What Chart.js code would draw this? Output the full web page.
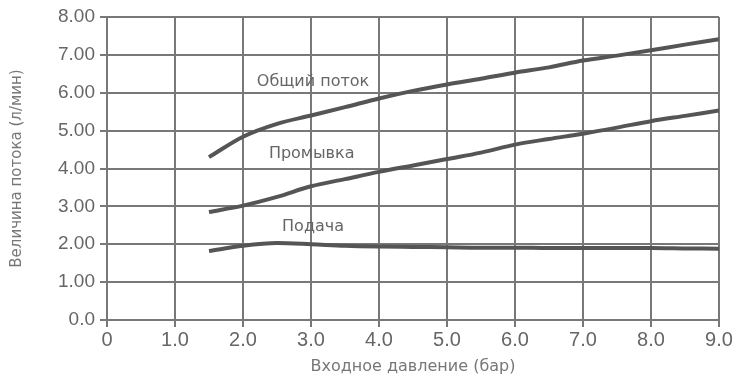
<!DOCTYPE html>
<html>
<head>
<meta charset="utf-8">
<script src="https://cdn.jsdelivr.net/npm/chart.js@4"></script>
<style>
  html, body { margin: 0; padding: 0; background: #fff; }
  #wrap { width: 736px; height: 377px; }
</style>
</head>
<body>
<div id="wrap"><canvas id="flowChart"></canvas></div>
<script>
// входное давление, бар
const pressure = [1.5, 2.0, 2.5, 3.0, 3.5, 4.0, 4.5, 5.0, 5.5, 6.0, 6.5, 7.0, 7.5, 8.0, 8.5, 9.0];

// расход, л/мин
const totalFlow = [4.30, 4.84, 5.18, 5.40, 5.62, 5.85, 6.05, 6.22, 6.37, 6.53, 6.67, 6.85, 6.98, 7.12, 7.27, 7.41];
const flushFlow = [2.85, 3.02, 3.25, 3.53, 3.72, 3.91, 4.08, 4.25, 4.42, 4.63, 4.78, 4.92, 5.08, 5.25, 5.39, 5.53];
const feedFlow  = [1.82, 1.96, 2.03, 2.00, 1.96, 1.94, 1.93, 1.92, 1.91, 1.91, 1.90, 1.90, 1.90, 1.90, 1.89, 1.88];

const seriesNames = ["Общий поток", "Промывка", "Подача"];
// where each curve name sits, in data units (x, y)
const nameAnchors = [[3.03, 6.30], [3.01, 4.39], [3.03, 2.45]];

const xTicks = ["0", "1.0", "2.0", "3.0", "4.0", "5.0", "6.0", "7.0", "8.0", "9.0"];
const yTicks = ["0.0", "1.00", "2.00", "3.00", "4.00", "5.00", "6.00", "7.00", "8.00"];

function toPoints(ys) {
    return pressure.map((p, i) => ({ x: p, y: ys[i] }));
}

const lineStyle = {
    borderColor: "#555555",
    borderWidth: 4,
    pointRadius: 0,
    fill: false,
    tension: 0.3,
    cubicInterpolationMode: "monotone"
};

const curveNames = {
    id: "curveNames",
    afterDatasetsDraw(chart) {
        const { ctx, scales } = chart;
        ctx.save();
        ctx.font = "16px 'DejaVu Sans'";
        ctx.fillStyle = "#666";
        ctx.textAlign = "center";
        ctx.textBaseline = "middle";
        seriesNames.forEach((name, i) => {
            const a = nameAnchors[i];
            ctx.fillText(name, scales.x.getPixelForValue(a[0]), scales.y.getPixelForValue(a[1]));
        });
        ctx.restore();
    }
};

const gridColor = "#787878";

new Chart(document.getElementById("flowChart").getContext("2d"), {
    type: "line",
    data: {
        datasets: [
            Object.assign({ label: seriesNames[0], data: toPoints(totalFlow) }, lineStyle),
            Object.assign({ label: seriesNames[1], data: toPoints(flushFlow) }, lineStyle),
            Object.assign({ label: seriesNames[2], data: toPoints(feedFlow) }, lineStyle)
        ]
    },
    options: {
        responsive: true,
        maintainAspectRatio: false,
        animation: false,
        layout: { padding: { top: 17, right: 17, left: 0, bottom: 0 } },
        plugins: {
            legend: { display: false },
            tooltip: { enabled: false }
        },
        scales: {
            x: {
                type: "linear",
                min: 0,
                max: 9,
                afterBuildTicks: s => { s.ticks = xTicks.map((t, i) => ({ value: i })); },
                afterFit: s => { s.height = 57; },
                ticks: {
                    callback: (v, i) => xTicks[i],
                    color: "#666",
                    font: { family: "'Liberation Sans'", size: 20 },
                    padding: 1,
                    maxRotation: 0
                },
                grid: { color: gridColor, lineWidth: 2, tickLength: 7 },
                border: { color: gridColor, width: 2 },
                title: {
                    display: true,
                    text: "Входное давление (бар)",
                    color: "#777",
                    font: { family: "'DejaVu Sans'", size: 16 },
                    padding: { top: 0, bottom: 1 }
                }
            },
            y: {
                min: 0,
                max: 8,
                afterBuildTicks: s => { s.ticks = yTicks.map((t, i) => ({ value: i })); },
                afterFit: s => { s.width = 107; },
                ticks: {
                    callback: (v, i) => yTicks[i],
                    color: "#666",
                    font: { family: "'Liberation Sans'", size: 19 },
                    padding: 5
                },
                grid: { color: gridColor, lineWidth: 2, tickLength: 7 },
                border: { color: gridColor, width: 2 },
                title: {
                    display: true,
                    text: "Величина потока (л/мин)",
                    color: "#777",
                    font: { family: "'DejaVu Sans'", size: 15 },
                    padding: { top: 8, bottom: 0 }
                }
            }
        }
    },
    plugins: [curveNames]
});
</script>
</body>
</html>
